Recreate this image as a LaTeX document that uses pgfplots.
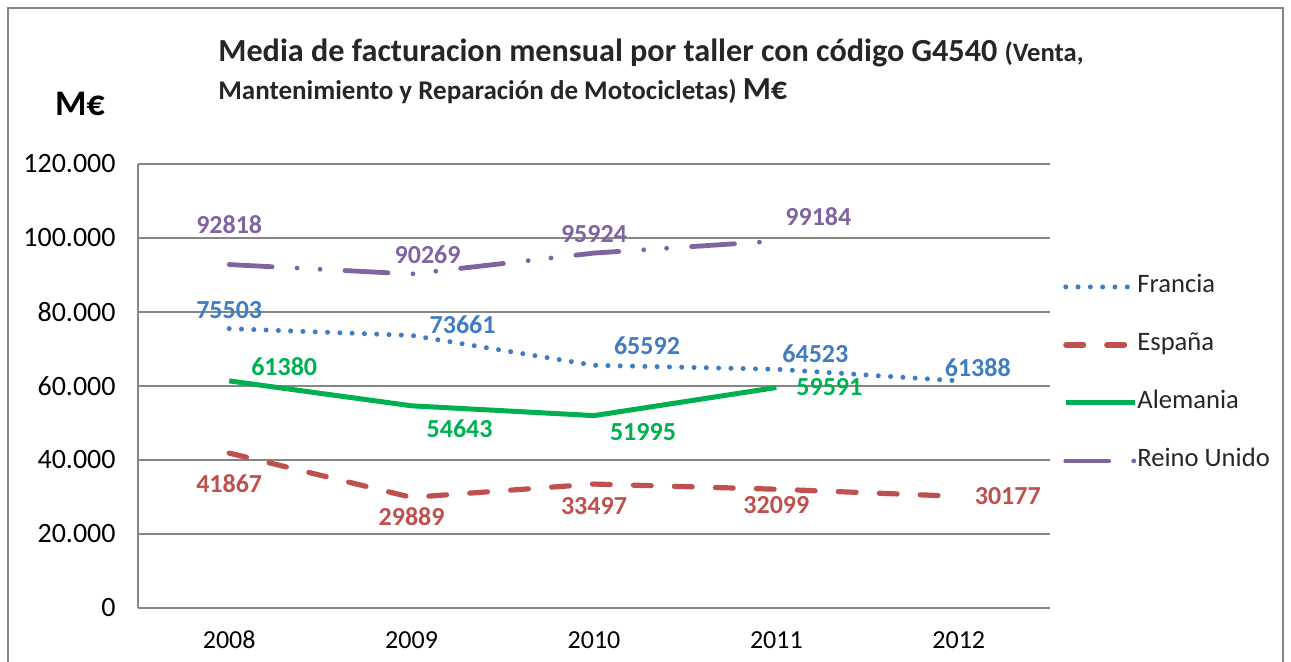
\documentclass[border=0pt]{standalone}
\usepackage{pgfplots}
\pgfplotsset{compat=1.18}
\usepackage{fontspec}
\setmainfont{Carlito}
\definecolor{cfr}{HTML}{3F7DC2}
\definecolor{ces}{HTML}{C0504D}
\definecolor{cal}{HTML}{00B050}
\definecolor{cru}{HTML}{8064A2}
\definecolor{cgr}{HTML}{868686}
\definecolor{ctx}{HTML}{262626}
\begin{document}
\begin{tikzpicture}
\useasboundingbox (0pt,0pt) rectangle (645.5pt,331pt);
\draw[cgr, line width=1pt] (4pt,-10pt) -- (4pt,327pt) -- (641.5pt,327pt) -- (641.5pt,-10pt);
\node[anchor=center, font=\fontsize{18}{20}\selectfont\bfseries, text=black] at (40pt,279pt) {M€};
\node[anchor=base west, inner sep=0pt, font=\bfseries, text=ctx] at (109pt,300pt) {\fontsize{16.1}{18}\selectfont Media de facturacion mensual por taller con código G4540 \fontsize{13.3}{15}\selectfont(Venta,};
\node[anchor=base west, inner sep=0pt, font=\bfseries, text=ctx] at (109pt,281pt) {\fontsize{13.5}{15}\selectfont Mantenimiento y Reparación de Motocicletas) \fontsize{16.1}{18}\selectfont M€};
\begin{axis}[
  at={(69pt,27pt)}, anchor=south west,
  width=456pt, height=222pt, scale only axis,
  xmin=-0.5, xmax=4.5, ymin=0, ymax=120000,
  scaled y ticks=false,
  axis x line=bottom, axis y line=left,
  axis line style={cgr, line width=1pt, -},
  xtick={0,1,2,3,4}, xticklabels={2008,2009,2010,2011,2012},
  ytick={0,20000,40000,60000,80000,100000,120000},
  yticklabels={0,20.000,40.000,60.000,80.000,100.000,120.000},
  major tick length=0pt,
  ymajorgrids, grid style={cgr, line width=1pt},
  xticklabel style={anchor=center, yshift=-16pt, font=\fontsize{13}{15}\selectfont, text=black},
  yticklabel style={anchor=east, xshift=-11pt, inner sep=0pt, font=\fontsize{14}{16}\selectfont, text=black},
  legend style={at={(1.014,0.751)}, anchor=north west, draw=none, fill=none,
    inner sep=0pt, row sep=17pt, font=\fontsize{13.3}{15}\selectfont, text=ctx,
    nodes={inner sep=0pt, text height=9pt, text depth=3pt}},
  legend cell align=left,
  legend image code/.code={\draw[#1] (0pt,0pt) -- (34.5pt,0pt);},
  every odd column/.style={column sep=4pt},
  clip=false,
]
\addplot[cfr, line width=2.5pt, line cap=round, dash pattern=on 0pt off 6.15pt] table {
x y
0 75503
1 73661
2 65592
3 64523
4 61388
};
\addlegendentry{Francia}
\addplot[ces, line width=2.6pt, line cap=round, dash pattern=on 8.9pt off 11.6pt] table {
x y
0 41867
1 29889
2 33497
3 32099
4 30177
};
\addlegendentry{España}
\addplot[cal, line width=2.5pt, line join=round] table {
x y
0 61380
1 54643
2 51995
3 59591
};
\addlegendentry{Alemania}
\addplot[cru, line width=2.4pt, line cap=round, dash pattern=on 21.5pt off 12.5pt on 0pt off 11.5pt on 0pt off 12.5pt] table {
x y
0 92818
1 90269
2 95924
3 99184
};
\addlegendentry{Reino Unido}
% data labels
\pgfplotsset{lbl/.style={draw=none, forget plot, nodes near coords, point meta=explicit symbolic,
  visualization depends on=value \thisrow{dx}\as\dx,
  visualization depends on=value \thisrow{dy}\as\dy,
  every node near coord/.append style={anchor=center, inner sep=0pt, xshift=\dx pt, yshift=\dy pt,
    font=\fontsize{13}{15}\selectfont\bfseries, text=#1}}}
\addplot[lbl=cfr] table[x=x, y=y, meta=l] {
x y l dx dy
0 75503 75503 0 9.3
1 73661 73661 25.5 5.2
2 65592 65592 26.5 9.7
3 64523 64523 19.5 8
4 61388 61388 9.5 6.5
};
\addplot[lbl=ces] table[x=x, y=y, meta=l] {
x y l dx dy
0 41867 41867 0 -15.5
1 29889 29889 0 -9.5
2 33497 33497 0 -11
3 32099 32099 0 -8
4 30177 30177 24.5 0
};
\addplot[lbl=cal] table[x=x, y=y, meta=l] {
x y l dx dy
0 61380 61380 27.5 7
1 54643 54643 24 -11.5
2 51995 51995 24.5 -8.2
3 59591 59591 26.5 0
};
\addplot[lbl=cru] table[x=x, y=y, meta=l] {
x y l dx dy
0 92818 92818 0 20
1 90269 90269 8 9.5
2 95924 95924 0 9.5
3 99184 99184 21 12
};
\end{axis}
\end{tikzpicture}
\end{document}
